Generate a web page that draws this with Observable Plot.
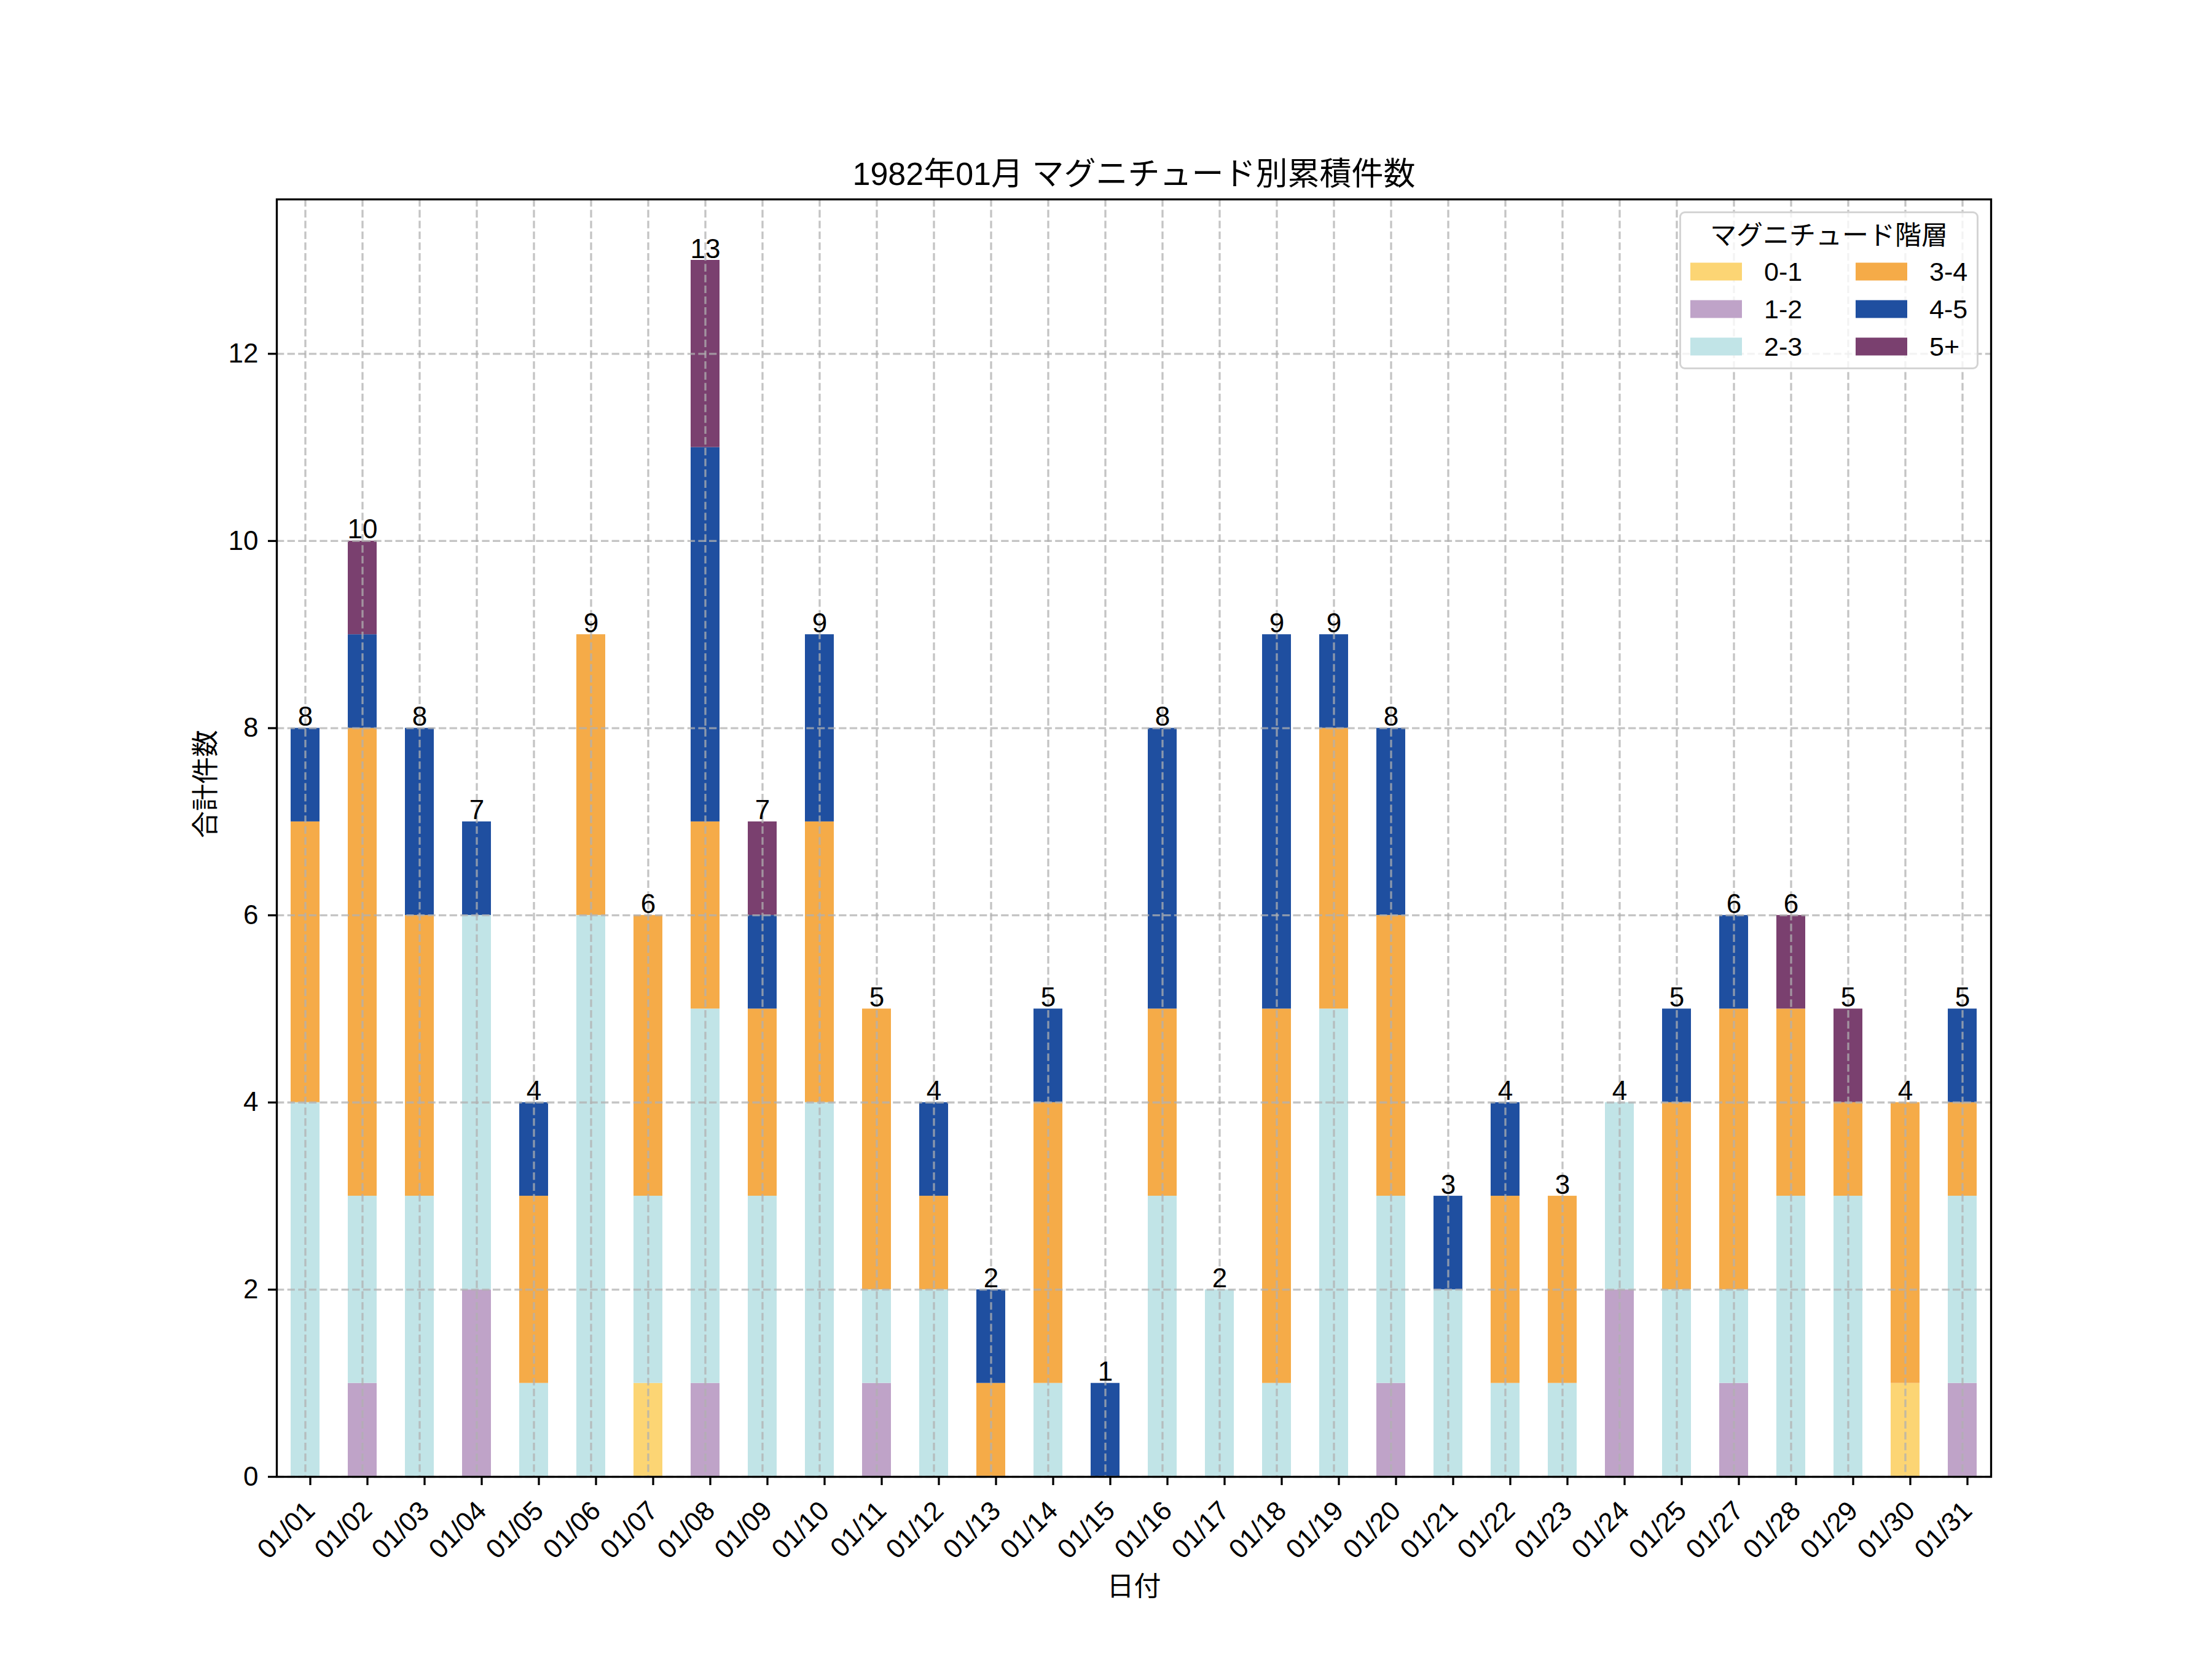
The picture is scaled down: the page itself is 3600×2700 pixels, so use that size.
<!DOCTYPE html>
<html>
<head>
<meta charset="utf-8">
<script src="https://cdn.jsdelivr.net/npm/d3@7"></script>
<script src="https://cdn.jsdelivr.net/npm/@observablehq/plot@0.6"></script>
<style>
  body { margin: 0; background: white; font-family: "Liberation Sans", "Noto Sans CJK JP", sans-serif; }
  #wrap { position: relative; width: 3600px; height: 2700px; }
  #legend { position: absolute; box-sizing: border-box; background: rgba(255,255,255,0.8);
            border: 3.3px solid #d4d4d4; border-radius: 9px; font-size: 43px; color: #000; }
  #legend .t { position: absolute; left: 0; width: 100%; text-align: center; transform: translateY(-50%); white-space: nowrap; line-height: 1; }
  #legend .sw { position: absolute; width: 84px; height: 29px; transform: translateY(-50%); }
  #legend .lb { position: absolute; transform: translateY(-50%); white-space: nowrap; line-height: 1; }
</style>
</head>
<body>
<div id="wrap"></div>
<script>
const title = "1982年01月 マグニチュード別累積件数";
const xLabel = "日付";
const yLabel = "合計件数";
const legendTitle = "マグニチュード階層";
const dates = ["01/01","01/02","01/03","01/04","01/05","01/06","01/07","01/08","01/09","01/10",
               "01/11","01/12","01/13","01/14","01/15","01/16","01/17","01/18","01/19","01/20",
               "01/21","01/22","01/23","01/24","01/25","01/27","01/28","01/29","01/30","01/31"];
const bins = ["0-1","1-2","2-3","3-4","4-5","5+"];
const colors = ["#FCD574","#BFA3C8","#C1E4E7","#F5AB48","#1F4FA0","#7A406F"];
const mag01 = [0,0,0,0,0,0,1,0,0,0, 0,0,0,0,0,0,0,0,0,0, 0,0,0,0,0,0,0,0,1,0];
const mag12 = [0,1,0,2,0,0,0,1,0,0, 1,0,0,0,0,0,0,0,0,1, 0,0,0,2,0,1,0,0,0,1];
const mag23 = [4,2,3,4,1,6,2,4,3,4, 1,2,0,1,0,3,2,1,5,2, 2,1,1,2,2,1,3,3,0,2];
const mag34 = [3,5,3,0,2,3,3,2,2,3, 3,1,1,3,0,2,0,4,3,3, 0,2,2,0,2,3,2,1,3,1];
const mag45 = [1,1,2,1,1,0,0,4,1,2, 0,1,1,1,1,3,0,4,1,2, 1,1,0,0,1,1,0,0,0,1];
const mag5p = [0,1,0,0,0,0,0,2,1,0, 0,0,0,0,0,0,0,0,0,0, 0,0,0,0,0,0,1,1,0,0];
const yTicks = [0,2,4,6,8,10,12];

const series = [mag01, mag12, mag23, mag34, mag45, mag5p];
const rows = [];
dates.forEach((d, i) => bins.forEach((b, j) => rows.push({date: d, bin: b, count: series[j][i]})));
const totals = dates.map((d, i) => ({date: d, total: series.reduce((s, a) => s + a[i], 0)}));
const yMax = d3.max(totals, d => d.total) * 1.05;

const fs = 44;
const dash = "12.3,5.3";
const chart = Plot.plot({
  width: 3600, height: 2700,
  marginLeft: 450, marginRight: 360, marginTop: 324, marginBottom: 297,
  style: {fontFamily: '"Liberation Sans", "Noto Sans CJK JP", sans-serif', fontSize: fs + "px", color: "black", background: "white"},
  x: {type: "band", domain: dates, paddingInner: 0.5, paddingOuter: 0.25, label: null},
  y: {domain: [0, yMax], label: null},
  color: {domain: bins, range: colors},
  marks: [
    Plot.barY(rows, {x: "date", y: "count", fill: "bin", order: bins}),
    Plot.gridY(yTicks, {stroke: "#b0b0b0", strokeOpacity: 0.75, strokeWidth: 3.3, strokeDasharray: dash}),
    Plot.gridX(dates, {stroke: "#b0b0b0", strokeOpacity: 0.75, strokeWidth: 3.3, strokeDasharray: dash}),
    Plot.text(totals, {x: "date", y: "total", text: d => String(d.total), lineAnchor: "bottom", dy: -4, fontSize: fs, fill: "black"}),
    Plot.frame({stroke: "black", strokeWidth: 3.3}),
    Plot.axisY({ticks: yTicks, tickSize: 14, tickPadding: 16, fontSize: fs, strokeWidth: 3.3, label: null, tickFormat: d => String(d)}),
    Plot.axisX({tickSize: 14, tickPadding: 34, tickRotate: -45, fontSize: fs, strokeWidth: 3.3, label: null, dx: 8}),
    Plot.text([title], {frameAnchor: "top", dy: -60, fontSize: 52, fill: "black"}),
    Plot.text([xLabel], {frameAnchor: "bottom", dy: 193, fontSize: fs, fill: "black"}),
    Plot.text([yLabel], {frameAnchor: "left", dx: -115, rotate: -90, fontSize: fs, fill: "black"})
  ]
});
const wrap = document.getElementById("wrap");
wrap.appendChild(chart);

// Legend (inside axes, upper right)
const lg = document.createElement("div");
lg.id = "legend";
Object.assign(lg.style, {left: "2733px", top: "344px", width: "487px", height: "257px"});
let html = `<div class="t" style="top:36px">${legendTitle}</div>`;
const rowY = [95, 156, 217];
bins.forEach((b, i) => {
  const col = Math.floor(i / 3), r = i % 3;
  const sx = col === 0 ? 15 : 284;
  const tx = col === 0 ? 135 : 404;
  html += `<div class="sw" style="left:${sx}px;top:${rowY[r]}px;background:${colors[i]}"></div>`;
  html += `<div class="lb" style="left:${tx}px;top:${rowY[r]}px">${b}</div>`;
});
lg.innerHTML = html;
wrap.appendChild(lg);
</script>
</body>
</html>
